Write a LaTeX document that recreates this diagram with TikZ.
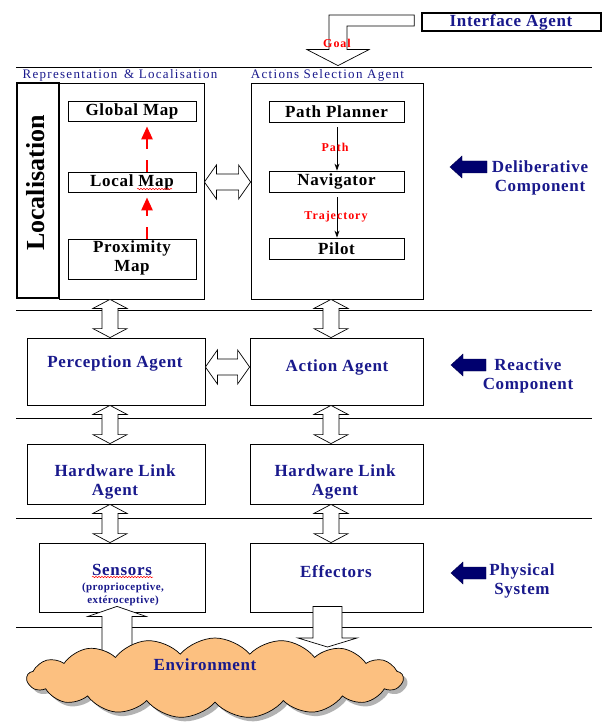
\documentclass[tikz,border=0pt]{standalone}
\usepackage{fontspec}
\setmainfont{Liberation Serif}
\newfontfamily\lblA[LetterSpace=4]{Liberation Serif}
\newfontfamily\lblB[LetterSpace=10]{Liberation Serif}
\newfontfamily\lblC[LetterSpace=8]{Liberation Serif}
\usetikzlibrary{shapes.symbols,shadows,arrows.meta,calc,decorations.pathmorphing}
\definecolor{navy}{RGB}{25,25,140}
\definecolor{navyfill}{RGB}{0,0,110}
\definecolor{envfill}{RGB}{252,192,128}
\newcommand{\vdarr}[2]{\draw[dblarrow] let \p1=(#1), \p2=(#2) in
  (\x1,\y1) -- (\x1+17pt,\y1-9pt) -- (\x1+8pt,\y1-9pt) -- (\x1+8pt,\y2+9pt) -- (\x1+17pt,\y2+9pt) -- (\x1,\y2)
  -- (\x1-17pt,\y2+9pt) -- (\x1-8pt,\y2+9pt) -- (\x1-8pt,\y1-9pt) -- (\x1-17pt,\y1-9pt) -- cycle;}
\newcommand{\hdarr}[2]{\draw[dblarrow] let \p1=(#1), \p2=(#2) in
  (\x1,\y1) -- (\x1+12pt,\y1+17pt) -- (\x1+12pt,\y1+8pt) -- (\x2-12pt,\y1+8pt) -- (\x2-12pt,\y1+17pt) -- (\x2,\y1)
  -- (\x2-12pt,\y1-17pt) -- (\x2-12pt,\y1-8pt) -- (\x1+12pt,\y1-8pt) -- (\x1+12pt,\y1-17pt) -- cycle;}
\begin{document}
\begin{tikzpicture}[x=1pt,y=-1pt,
  box/.style={draw, line width=0.8pt, inner sep=0pt, fill=white},
  main/.style={font=\lblA\bfseries\fontsize{17}{19}\selectfont, text=navy, align=center, inner sep=0pt},
  dark/.style={main, text=black},
  subtxt/.style={font=\lblA\bfseries\fontsize{11}{13}\selectfont, text=navy, align=center, inner sep=0pt},
  hdr/.style={font=\lblB\fontsize{13}{15}\selectfont, text=navy, inner sep=0pt},
  redlbl/.style={font=\lblC\bfseries\fontsize{12}{14}\selectfont, text=red, inner sep=0pt},
  dblarrow/.style={draw, line width=0.7pt, fill=white, line join=miter},
  hline/.style={line width=0.8pt},
  thinarrow/.style={line width=0.8pt, -{Stealth[length=7pt,width=5pt]}, shorten <=5pt},
  reddash/.style={red, line width=2.6pt, dash pattern=on 12pt off 11pt, -{Triangle[length=13pt,width=11pt]}, shorten >=5pt},
  squiggle/.style={red, line width=0.5pt, decorate, decoration={snake, amplitude=0.7pt, segment length=3pt}},
  pointer/.style={fill=navyfill, draw=navyfill!70!black, line width=0.4pt}
]
\useasboundingbox (0,0) rectangle (603,722);
\fill[white] (0,0) rectangle (603,722);

% horizontal separators
\draw[hline] (16,67) -- (592,67);
\draw[hline] (16,310) -- (592,310);
\draw[hline] (16,418) -- (592,418);
\draw[hline] (16,518) -- (592,518);
\draw[hline] (16,627) -- (592,627);

% interface agent
\node[box, line width=1.6pt, minimum width=179pt, minimum height=18pt] (iface) at (511.5,22) {};
\node[main] (ifaceT) at (511,22) {Interface Agent};

% headers
\node[hdr] (hrep) at (120,75) {Representation\, \& Localisation};
\node[hdr] (hact) at (327.5,75) {Actions Selection Agent};

% representation block
\node[box, minimum width=145pt, minimum height=216pt] (rep) at (131.5,191) {};
\node[box, line width=2.4pt, minimum width=42pt, minimum height=215pt] (loc) at (38,190.5) {};
\node[font=\bfseries\fontsize{26}{26}\selectfont, rotate=90, inner sep=0pt] (locT) at (36,183) {Localisation};
\node[box, minimum width=128pt, minimum height=20pt] (glob) at (132,111) {};
\node[box, minimum width=128pt, minimum height=20pt] (local) at (132,182) {};
\node[box, minimum width=128pt, minimum height=40pt] (prox) at (132,259) {};
\node[dark] (globT) at (132,111) {Global Map};
\node[dark] (localT) at (132,182) {Local Map};
\node[dark] (proxT) at (132,258) {Proximity\\Map};
\draw[squiggle] (137,189) -- (172,189);
\coordinate (mx) at (147,0);
\draw[reddash] (prox.north -| mx) -- (local.south -| mx);
\draw[reddash] (local.north -| mx) -- (glob.south -| mx);

% action selection block
\node[box, minimum width=172pt, minimum height=216pt] (act) at (337,191) {};
\node[box, minimum width=135pt, minimum height=21pt] (planner) at (336.5,111.5) {};
\node[box, minimum width=135pt, minimum height=21pt] (nav) at (336.5,181.5) {};
\node[box, minimum width=135pt, minimum height=21pt] (pilot) at (336.5,248.5) {};
\node[dark] (plannerT) at (336.5,111.5) {Path Planner};
\node[dark] (navT) at (336.5,181.5) {Navigator};
\node[dark] (pilotT) at (336.5,248.5) {Pilot};
\coordinate (ax) at (337,0);
\draw[thinarrow] (planner.south -| ax) -- (nav.north -| ax);
\draw[thinarrow] (nav.south -| ax) -- (pilot.north -| ax);
\node[redlbl] (pathL) at (335,147) {Path};
\node[redlbl] (trajL) at (336,217) {Trajectory};

% goal arrow
\coordinate (goalS) at ($(iface.west)+(-7,-1.5)$);
\coordinate (goalT) at ($(act.north)+(1,-17)$);
\draw[dblarrow] let \p1=(goalS), \p2=(goalT) in
  (\x1,\y1+5.5pt) -- (\x2-9pt,\y1+5.5pt) -- (\x2-9pt,\y2+16pt) -- (\x2-31pt,\y2+16pt) -- (\x2,\y2)
  -- (\x2+31pt,\y2+16pt) -- (\x2+9pt,\y2+16pt) -- (\x2+9pt,\y1-5.5pt) -- (\x1,\y1-5.5pt) -- cycle;
\node[redlbl] (goalL) at (337,43) {Goal};

% reactive row
\node[box, minimum width=178pt, minimum height=67pt] (perc) at (116,371.5) {};
\node[box, minimum width=173pt, minimum height=67pt] (actag) at (336.5,371.5) {};
\node[main] (percT) at (115,363) {Perception Agent};
\node[main] (actagT) at (337,367) {Action Agent};

% hardware row
\node[box, minimum width=178pt, minimum height=60pt] (hwl) at (116,474) {};
\node[box, minimum width=173pt, minimum height=60pt] (hwr) at (336.5,474) {};
\node[main] (hwlT) at (115,482) {Hardware Link\\Agent};
\node[main] (hwrT) at (335,482) {Hardware Link\\Agent};

% physical row
\node[box, minimum width=166pt, minimum height=69pt] (sens) at (122,577.5) {};
\node[box, minimum width=173pt, minimum height=69pt] (eff) at (336.5,577.5) {};
\node[main] (sensT) at (122,570) {Sensors};
\draw[squiggle] (92,577) -- (153,577);
\node[subtxt] (sensS) at (123,594.5) {(proprioceptive,\\extéroceptive)};
\node[main] (effT) at (336,572) {Effectors};

% double arrows
\coordinate (lx) at (110,0);
\coordinate (rx) at (331,0);
\coordinate (hy1) at (0,182);
\coordinate (hy2) at (0,367);
\vdarr{rep.south -| lx}{perc.north -| lx}
\vdarr{act.south -| rx}{actag.north -| rx}
\vdarr{perc.south -| lx}{hwl.north -| lx}
\vdarr{actag.south -| rx}{hwr.north -| rx}
\vdarr{hwl.south -| lx}{sens.north -| lx}
\vdarr{hwr.south -| rx}{eff.north -| rx}
\hdarr{rep.east |- hy1}{act.west |- hy1}
\hdarr{perc.east |- hy2}{actag.west |- hy2}

% side labels with pointers
\fill[pointer] (450,167) -- (462,156) -- (462,161) -- (487,161) -- (487,173) -- (462,173) -- (462,178) -- cycle;
\node[main] (delT) at (540,177.5) {Deliberative\\Component};
\fill[pointer] (451,365) -- (463,354) -- (463,359) -- (486,359) -- (486,371) -- (463,371) -- (463,376) -- cycle;
\node[main] (reaT) at (528,375.5) {Reactive\\Component};
\fill[pointer] (451,573) -- (463,562) -- (463,567) -- (486,567) -- (486,579) -- (463,579) -- (463,584) -- cycle;
\node[main] (phyT) at (522,581) {Physical\\System};

% environment
\coordinate (upB) at (117,660);
\coordinate (upT) at ($(sens.south)+(-5,-6)$);
\draw[dblarrow] let \p1=(upB), \p2=(upT) in
  (\x1-15pt,\y1) -- (\x1-15pt,\y2-10pt) -- (\x1-29pt,\y2-10pt) -- (\x2,\y2) -- (\x1+29pt,\y2-10pt)
  -- (\x1+15pt,\y2-10pt) -- (\x1+15pt,\y1) -- cycle;
\node[cloud, cloud puffs=17, cloud puff arc=100, cloud ignores aspect, minimum width=376pt, minimum height=80pt,
  draw, line width=0.7pt, fill=envfill, drop shadow={shadow xshift=4pt, shadow yshift=-4pt, fill=black!60}] (env) at (215,678) {};
\node[main] (envT) at (205,665) {Environment};
\coordinate (dnT) at ($(eff.south)+(-9,-6)$);
\coordinate (dnB) at (327.5,647);
\draw[dblarrow] let \p1=(dnT), \p2=(dnB) in
  (\x1-14.5pt,\y1) -- (\x1-14.5pt,\y2+9pt) -- (\x1-29.5pt,\y2+9pt) -- (\x2,\y2) -- (\x1+29.5pt,\y2+9pt)
  -- (\x1+14.5pt,\y2+9pt) -- (\x1+14.5pt,\y1) -- cycle;
\end{tikzpicture}
\end{document}
